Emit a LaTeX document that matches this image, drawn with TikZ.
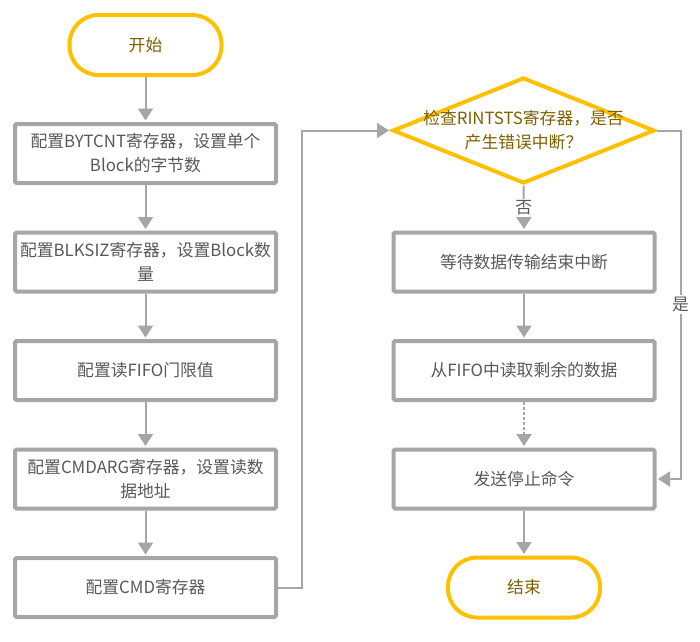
\documentclass[tikz,border=0pt]{standalone}
\usepackage{fontspec}
\setmainfont{Noto Sans CJK SC}
\usetikzlibrary{arrows.meta,shapes.geometric}
\definecolor{ygold}{HTML}{FFC000}
\definecolor{ytext}{HTML}{7F6000}
\definecolor{gline}{HTML}{A6A6A6}
\definecolor{gtext}{HTML}{595959}
\begin{document}
\begin{tikzpicture}[x=1pt,y=-1pt,
  font=\fontsize{16.8pt}{24pt}\selectfont,
  term/.style={draw=ygold,line width=4pt,rectangle,rounded corners=29pt,minimum width=152pt,minimum height=60pt,text=ytext,inner sep=0pt},
  proc/.style={draw=gline,line width=4pt,rectangle,rounded corners=1.5pt,minimum width=261pt,minimum height=59pt,text=gtext,align=center,inner sep=0pt},
  decis/.style={draw=ygold,line width=4pt,diamond,minimum width=262pt,minimum height=106pt,inner sep=0pt},
  dtext/.style={text=ytext,align=center,inner sep=0pt},
  conn/.style={draw=gline,line width=2pt,-{Triangle[width=15pt,length=12pt]},shorten >=1.5pt},
  lab/.style={fill=white,text=gtext,inner sep=2pt}
]
\useasboundingbox[fill=white] (0,0) rectangle (700,641);
\node[term] (start) at (145.5,45) {开始};
\node[proc] (b1) at (145.5,153.5) {配置BYTCNT寄存器，设置单个\\Block的字节数};
\node[proc] (b2) at (145.5,262) {配置BLKSIZ寄存器，设置Block数\\量};
\node[proc] (b3) at (145.5,370.5) {配置读FIFO门限值};
\node[proc] (b4) at (145.5,479) {配置CMDARG寄存器，设置读数\\据地址};
\node[proc] (b5) at (145.5,587.5) {配置CMD寄存器};
\node[decis] (dec) at (523.5,130.5) {};
\node[dtext] (dect) at (523.5,130.5) {检查RINTSTS寄存器，是否\\产生错误中断？};
\node[proc] (r1) at (524,262) {等待数据传输结束中断};
\node[proc] (r2) at (524,370.5) {从FIFO中读取剩余的数据};
\node[proc] (r3) at (524,479) {发送停止命令};
\node[term] (end) at (524,587.5) {结束};

\draw[conn] (start) -- (b1);
\draw[conn] (b1) -- (b2);
\draw[conn] (b2) -- (b3);
\draw[conn] (b3) -- (b4);
\draw[conn] (b4) -- (b5);
\draw[conn] (b5.east) -- ++(24,0) |- (dec.west);
\draw[conn] (dec.south) -- node[lab] {否} (r1.north);
\draw[conn] (r1) -- (r2);
\draw[conn,dash pattern=on 3pt off 2pt] (r2) -- (r3);
\draw[conn] (r3) -- (end);
\draw[conn] (dec.east) -- ++(24,0) |- node[lab,pos=0.25] {是} (r3.east);
\end{tikzpicture}
\end{document}
